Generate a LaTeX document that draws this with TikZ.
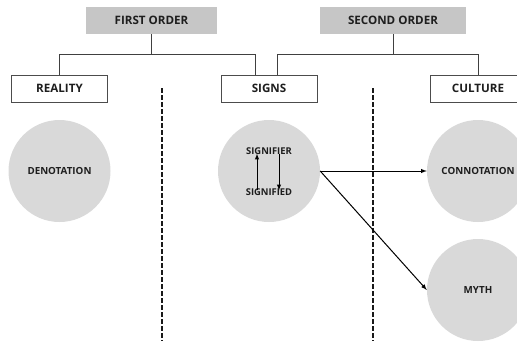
\documentclass[tikz,border=0pt]{standalone}
\usepackage{fontspec}
\setmainfont{Open Sans}
\usepackage{tikz}
\usetikzlibrary{arrows,positioning}
\tikzset{>=latex}
\definecolor{ordergray}{HTML}{C6C6C6}
\definecolor{circgray}{HTML}{D9D9D9}
\definecolor{inkgray}{HTML}{1E1E1E}

\begin{document}
\begin{tikzpicture}[x=1pt,y=-1pt,
	order/.style={fill=ordergray, minimum height=27pt, inner sep=0pt, font=\fontsize{11.6}{13}\selectfont\bfseries, text=inkgray},
	level/.style={draw=black!70, fill=white, line width=0.6pt, minimum width=96pt, minimum height=27pt, inner sep=0pt, font=\fontsize{11.6}{13}\selectfont\bfseries, text=inkgray},
	blob/.style={circle, fill=circgray, minimum size=102pt, inner sep=0pt, font=\fontsize{9.8}{11}\selectfont\bfseries, text=inkgray},
	small/.style={inner sep=0pt, font=\fontsize{9.4}{11}\selectfont\bfseries, text=inkgray},
	node distance=82.5pt, on grid]
	\useasboundingbox (0,0) rectangle (517,341);
	\clip (0,0) rectangle (517,341);
		% headings
		\node[order, minimum width=131pt] (first) at (151.5,20.5) {FIRST ORDER};
		\node[order, minimum width=146pt] (second) at (393,20.5) {SECOND ORDER};
		\node[level] (reality) at (59.5,88.5) {REALITY};
		\node[level] (signs) at (269,88.5) {SIGNS};
		\node[level] (culture) at (478,88.5) {CULTURE};
		\draw[black!75, line width=0.6pt] (first.south) -- ++(0,20) -| (reality.north);
		\draw[black!75, line width=0.6pt] (first.south) ++(0,20) -| ([xshift=-14pt]signs.north);
		\draw[black!75, line width=0.6pt] (second.south) -- ++(0,20) -| ([xshift=8pt]signs.north);
		\draw[black!75, line width=0.6pt] (second.south) ++(0,20) -| (culture.north);
		% separators
		\coordinate (sepa) at (162,88);
		\coordinate (sepb) at (373,88);
		\draw[dashed, dash pattern=on 5pt off 2pt, line width=1.2pt, black!90] (sepa) -- (162,341);
		\draw[dashed, dash pattern=on 5pt off 2pt, line width=1.2pt, black!90] (sepb) -- (373,341);
		% circles
		\node[blob] (deno) [below=of reality] {DENOTATION};
		\node[blob] (sign) [below=of signs] {};
		\node[blob] (conno) [below=of culture] {CONNOTATION};
		\node[blob] (myth) [below=119pt of conno] {MYTH};
		\node[small] (sfier) at ([yshift=20pt]sign.center) {SIGNIFIER};
		\node[small] (sfied) at ([yshift=-21pt]sign.center) {SIGNIFIED};
		\draw[->, line width=1pt] ([xshift=-12pt,yshift=-2pt]sfied.north) -- ([xshift=-12pt,yshift=1pt]sfier.south);
		\draw[->, line width=1pt] ([xshift=10pt,yshift=1pt]sfier.south) -- ([xshift=10pt,yshift=-2pt]sfied.north);
		\path[->, line width=1pt]
			(sign.east) edge (conno.west)
			(sign.east) edge (myth.west);
	\end{tikzpicture}
\end{document}
